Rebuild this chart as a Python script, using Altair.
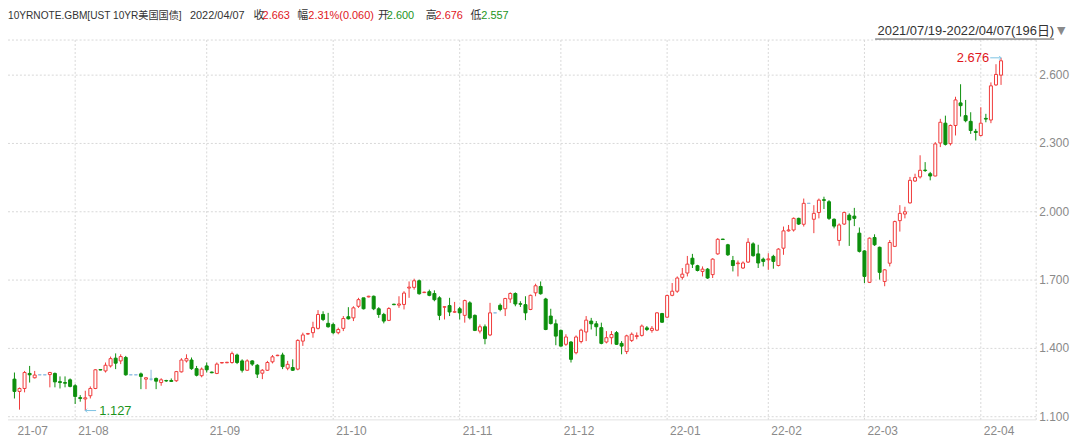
import altair as alt
import pandas as pd

# ---------------- data ----------------
symbol_name = "10YRNOTE.GBM[UST 10YR美国国债]"
first_date = "2021/07/19"
last_date = "2022/04/07"

opens = [
    1.265, 1.211, 1.224, 1.290, 1.271, 1.284, 1.284, 1.285, 1.290, 1.254,
    1.250, 1.262, 1.236, 1.184, 1.178, 1.192, 1.224, 1.307, 1.301, 1.323,
    1.357, 1.345, 1.360, 1.284, 1.284, 1.288, 1.265, 1.265, 1.268, 1.250,
    1.259, 1.259, 1.258, 1.297, 1.345, 1.349, 1.311, 1.280, 1.323, 1.296,
    1.290, 1.336, 1.337, 1.338, 1.371, 1.345, 1.304, 1.345, 1.326, 1.291,
    1.304, 1.341, 1.368, 1.371, 1.313, 1.316, 1.309, 1.432, 1.463, 1.469,
    1.488, 1.549, 1.510, 1.505, 1.469, 1.488, 1.539, 1.534, 1.585, 1.622,
    1.626, 1.629, 1.574, 1.549, 1.523, 1.594, 1.590, 1.593, 1.665, 1.668,
    1.697, 1.645, 1.649, 1.641, 1.622, 1.581, 1.588, 1.559, 1.574, 1.545,
    1.600, 1.545, 1.476, 1.495, 1.459, 1.556, 1.589, 1.574, 1.617, 1.641,
    1.596, 1.592, 1.571, 1.644, 1.672, 1.617, 1.542, 1.508, 1.479, 1.418,
    1.428, 1.381, 1.430, 1.472, 1.520, 1.508, 1.491, 1.428, 1.447, 1.469,
    1.422, 1.386, 1.435, 1.452, 1.457, 1.490, 1.479, 1.480, 1.553, 1.537,
    1.633, 1.651, 1.712, 1.731, 1.796, 1.763, 1.738, 1.748, 1.724, 1.815,
    1.880, 1.855, 1.786, 1.772, 1.753, 1.779, 1.859, 1.815, 1.792, 1.789,
    1.804, 1.764, 1.840, 1.916, 1.920, 1.971, 1.945, 2.037, 1.967, 1.997,
    2.053, 2.044, 1.967, 1.874, 1.946, 1.985, 1.981, 1.906, 1.828, 1.690,
    1.887, 1.844, 1.694, 1.774, 1.848, 1.961, 1.990, 2.039, 2.135, 2.153,
    2.183, 2.167, 2.157, 2.302, 2.389, 2.299, 2.379, 2.478, 2.422, 2.397,
    2.353, 2.335, 2.410, 2.403, 2.557, 2.600,
]
highs = [
    1.294, 1.228, 1.301, 1.323, 1.301, 1.284, 1.284, 1.297, 1.294, 1.277,
    1.277, 1.268, 1.243, 1.195, 1.214, 1.233, 1.309, 1.308, 1.338, 1.364,
    1.378, 1.374, 1.367, 1.284, 1.284, 1.294, 1.274, 1.306, 1.272, 1.269,
    1.262, 1.268, 1.301, 1.357, 1.374, 1.360, 1.323, 1.316, 1.338, 1.298,
    1.338, 1.340, 1.341, 1.386, 1.377, 1.352, 1.352, 1.348, 1.331, 1.309,
    1.345, 1.371, 1.372, 1.381, 1.345, 1.352, 1.440, 1.469, 1.468, 1.517,
    1.568, 1.563, 1.556, 1.513, 1.491, 1.542, 1.581, 1.585, 1.622, 1.622,
    1.631, 1.632, 1.581, 1.556, 1.581, 1.596, 1.629, 1.651, 1.694, 1.706,
    1.702, 1.649, 1.658, 1.655, 1.629, 1.585, 1.622, 1.604, 1.582, 1.614,
    1.607, 1.549, 1.505, 1.505, 1.600, 1.556, 1.597, 1.622, 1.646, 1.646,
    1.607, 1.629, 1.636, 1.684, 1.694, 1.622, 1.574, 1.527, 1.483, 1.462,
    1.432, 1.457, 1.486, 1.542, 1.534, 1.520, 1.513, 1.476, 1.476, 1.476,
    1.432, 1.460, 1.470, 1.470, 1.505, 1.498, 1.498, 1.559, 1.556, 1.636,
    1.687, 1.716, 1.753, 1.806, 1.815, 1.767, 1.760, 1.753, 1.796, 1.884,
    1.881, 1.859, 1.806, 1.786, 1.782, 1.884, 1.866, 1.855, 1.799, 1.818,
    1.811, 1.840, 1.935, 1.942, 1.975, 1.974, 2.058, 2.037, 2.029, 2.058,
    2.066, 2.051, 1.971, 1.949, 2.000, 1.993, 2.017, 1.931, 1.831, 1.887,
    1.901, 1.847, 1.748, 1.876, 1.961, 2.029, 2.022, 2.153, 2.167, 2.248,
    2.218, 2.175, 2.306, 2.408, 2.422, 2.383, 2.505, 2.560, 2.491, 2.437,
    2.364, 2.459, 2.430, 2.568, 2.648, 2.676,
]
lows = [
    1.180, 1.131, 1.207, 1.250, 1.268, 1.284, 1.284, 1.229, 1.229, 1.224,
    1.229, 1.229, 1.156, 1.166, 1.127, 1.180, 1.221, 1.304, 1.294, 1.316,
    1.309, 1.331, 1.280, 1.284, 1.284, 1.221, 1.221, 1.258, 1.221, 1.236,
    1.253, 1.253, 1.253, 1.294, 1.338, 1.306, 1.277, 1.273, 1.294, 1.291,
    1.287, 1.334, 1.335, 1.333, 1.331, 1.294, 1.301, 1.323, 1.270, 1.265,
    1.301, 1.334, 1.366, 1.309, 1.304, 1.301, 1.304, 1.411, 1.460, 1.447,
    1.483, 1.520, 1.491, 1.462, 1.462, 1.476, 1.527, 1.520, 1.578, 1.571,
    1.624, 1.568, 1.534, 1.510, 1.520, 1.590, 1.578, 1.571, 1.622, 1.658,
    1.636, 1.643, 1.629, 1.607, 1.524, 1.527, 1.542, 1.556, 1.527, 1.513,
    1.527, 1.476, 1.466, 1.418, 1.454, 1.556, 1.563, 1.542, 1.600, 1.585,
    1.582, 1.524, 1.568, 1.629, 1.636, 1.480, 1.505, 1.414, 1.408, 1.411,
    1.338, 1.374, 1.422, 1.432, 1.483, 1.454, 1.418, 1.422, 1.418, 1.415,
    1.374, 1.375, 1.428, 1.440, 1.452, 1.476, 1.469, 1.476, 1.512, 1.534,
    1.629, 1.644, 1.702, 1.716, 1.753, 1.738, 1.716, 1.705, 1.709, 1.811,
    1.877, 1.806, 1.738, 1.716, 1.749, 1.775, 1.803, 1.753, 1.760, 1.745,
    1.750, 1.760, 1.811, 1.913, 1.913, 1.942, 1.935, 2.037, 1.906, 1.971,
    2.012, 1.964, 1.927, 1.851, 1.942, 1.850, 1.937, 1.821, 1.687, 1.687,
    1.850, 1.702, 1.673, 1.760, 1.845, 1.913, 1.971, 2.036, 2.131, 2.146,
    2.175, 2.138, 2.156, 2.284, 2.291, 2.291, 2.335, 2.418, 2.393, 2.342,
    2.313, 2.331, 2.393, 2.389, 2.553, 2.557,
]
closes = [
    1.211, 1.224, 1.294, 1.284, 1.283, 1.284, 1.284, 1.294, 1.253, 1.250,
    1.247, 1.233, 1.189, 1.180, 1.183, 1.224, 1.306, 1.305, 1.326, 1.355,
    1.335, 1.364, 1.284, 1.284, 1.284, 1.277, 1.271, 1.265, 1.256, 1.262,
    1.257, 1.255, 1.298, 1.349, 1.355, 1.311, 1.282, 1.309, 1.306, 1.293,
    1.331, 1.338, 1.339, 1.377, 1.338, 1.304, 1.345, 1.331, 1.287, 1.304,
    1.338, 1.363, 1.370, 1.320, 1.330, 1.304, 1.435, 1.459, 1.465, 1.491,
    1.549, 1.527, 1.495, 1.469, 1.483, 1.531, 1.530, 1.578, 1.614, 1.574,
    1.629, 1.574, 1.549, 1.520, 1.575, 1.592, 1.595, 1.643, 1.669, 1.697,
    1.640, 1.647, 1.633, 1.614, 1.545, 1.583, 1.560, 1.561, 1.556, 1.610,
    1.534, 1.479, 1.495, 1.443, 1.556, 1.556, 1.571, 1.619, 1.641, 1.595,
    1.594, 1.556, 1.633, 1.675, 1.640, 1.483, 1.509, 1.454, 1.410, 1.450,
    1.352, 1.450, 1.480, 1.524, 1.508, 1.495, 1.422, 1.447, 1.461, 1.418,
    1.410, 1.455, 1.462, 1.456, 1.498, 1.483, 1.488, 1.556, 1.515, 1.632,
    1.651, 1.709, 1.726, 1.770, 1.770, 1.742, 1.748, 1.709, 1.792, 1.879,
    1.878, 1.811, 1.764, 1.775, 1.775, 1.866, 1.807, 1.775, 1.782, 1.793,
    1.782, 1.836, 1.916, 1.920, 1.971, 1.946, 2.037, 2.037, 1.993, 2.051,
    2.050, 1.971, 1.937, 1.942, 1.997, 1.964, 1.971, 1.826, 1.716, 1.884,
    1.855, 1.734, 1.745, 1.865, 1.957, 1.993, 2.000, 2.138, 2.150, 2.182,
    2.181, 2.157, 2.298, 2.393, 2.296, 2.379, 2.491, 2.466, 2.400, 2.357,
    2.348, 2.389, 2.407, 2.553, 2.603, 2.663,
]

month_labels = ["21-07", "21-08", "21-09", "21-10", "21-11", "21-12",
                "22-01", "22-02", "22-03", "22-04"]
month_index = [0, 12, 38, 63, 88, 108, 129, 149, 168, 191]
y_ticks = [2.6, 2.3, 2.0, 1.7, 1.4, 1.1]

# ---------------- style / layout ----------------
RED = "#f03a3a"
GREEN = "#0c8f0c"
FLAT = "#8bbbe0"
RED_T = "#e0161c"
GREEN_T = "#1c941c"
GRID = "#d8d8d8"
AXT = "#8a8a8a"
TXT = "#333333"
ARROW = "#7cc3e3"
FONT = "Liberation Sans, Noto Sans CJK SC"

W, H = 1034, 382
PT, PR, PB = 31, 36, 19
x0 = 1.5
step = (1003.35 - x0) / 195.0
xs = alt.Scale(domain=[-x0 / step, (W - x0) / step], nice=False, zero=False)
ys = alt.Scale(domain=[1.0860, 2.7541], nice=False, zero=False)

n = len(closes)


def direction(o, c):
    if c > o:
        return "up"
    if c < o:
        return "down"
    return "flat"


df = pd.DataFrame({"i": list(range(n)), "o": opens, "h": highs,
                   "l": lows, "c": closes})
df["d"] = [direction(o, c) for o, c in zip(opens, closes)]
dom = ["up", "down", "flat"]

X = alt.X("i:Q", scale=xs, axis=None)

wick = alt.Chart(df).mark_rule(strokeWidth=1).encode(
    x=X,
    y=alt.Y("l:Q", scale=ys, axis=None),
    y2="h:Q",
    color=alt.Color("d:N", scale=alt.Scale(domain=dom, range=[RED, GREEN, FLAT]), legend=None),
)
body = alt.Chart(df).mark_bar(size=3, strokeWidth=1).encode(
    x=X,
    y=alt.Y("o:Q", scale=ys, axis=None),
    y2="c:Q",
    fill=alt.Fill("d:N", scale=alt.Scale(domain=dom, range=["#ffffff", GREEN, FLAT]), legend=None),
    stroke=alt.Stroke("d:N", scale=alt.Scale(domain=dom, range=[RED, GREEN, FLAT]), legend=None),
)

# grid / axes
ydf = pd.DataFrame({"v": y_ticks, "lab": [f"{v:.3f}" for v in y_ticks]})
hgrid = alt.Chart(ydf).mark_rule(color=GRID, strokeDash=[2, 2], strokeWidth=1).encode(
    y=alt.Y("v:Q", scale=ys, axis=None), x=alt.value(0), x2=alt.value(W))
ylab = alt.Chart(ydf).mark_text(align="left", baseline="middle", fontSize=12,
                                color=AXT, font=FONT).encode(
    y=alt.Y("v:Q", scale=ys, axis=None), x=alt.value(W + 3), text="lab:N")

mdf = pd.DataFrame({"i": month_index, "lab": month_labels})
vgrid = alt.Chart(mdf[mdf["i"] > 0]).mark_rule(color=GRID, strokeDash=[2, 2]).encode(
    x=alt.X("i:Q", scale=xs, axis=None), y=alt.value(0), y2=alt.value(H))
mlab = alt.Chart(mdf).mark_text(align="left", baseline="middle", dx=3, fontSize=12,
                                color=AXT, font=FONT).encode(
    x=alt.X("i:Q", scale=xs, axis=None), y=alt.value(H + 11), text="lab:N")

one = pd.DataFrame({"k": [0]})
top_line = alt.Chart(one).mark_rule(color=GRID, strokeDash=[2, 2]).encode(
    x=alt.value(0), x2=alt.value(W), y=alt.value(0))
bottom_line = alt.Chart(one).mark_rule(color="#e2e2e2").encode(
    x=alt.value(0), x2=alt.value(W), y=alt.value(H))
right_line = alt.Chart(one).mark_rule(color=GRID, strokeDash=[2, 2]).encode(
    x=alt.value(W), y=alt.value(0), y2=alt.value(H))

# header
last_c = closes[-1]
prev_c = closes[-2]
chg = last_c - prev_c
pct = chg / prev_c * 100
header_items = [
    (last_date, 183, TXT),
    ("收", 247, TXT), (f"{last_c:.3f}", 256, RED_T),
    ("幅", 291, TXT), (f"{pct:.2f}%({chg:.3f})", 302, RED_T),
    ("开", 372, TXT), (f"{opens[-1]:.3f}", 381, GREEN_T),
    ("高", 420, TXT), (f"{highs[-1]:.3f}", 430, RED_T),
    ("低", 465, TXT), (f"{lows[-1]:.3f}", 476, GREEN_T),
]
header_layers = [
    alt.Chart(one).mark_text(text=symbol_name, align="left", baseline="middle",
                             fontSize=10.2, color=TXT, font=FONT).encode(
        x=alt.value(0), y=alt.value(-24))
] + [
    alt.Chart(one).mark_text(text=t, align="left", baseline="middle", fontSize=11,
                             color=col, font=FONT).encode(
        x=alt.value(xp), y=alt.value(-24))
    for t, xp, col in header_items
]

range_text = f"{first_date}-{last_date}({n}日)"
range_lab = alt.Chart(one).mark_text(text=range_text, align="right", baseline="middle",
                                     fontSize=13, color=TXT, font=FONT).encode(
    x=alt.value(1052), y=alt.value(-9))
range_line = alt.Chart(one).mark_rule(color="#555555").encode(
    x=alt.value(872), x2=alt.value(1052), y=alt.value(-1))
tri = alt.Chart(one).mark_text(text="▼", align="left", baseline="middle", fontSize=11,
                               color="#8a8a8a", font="DejaVu Sans").encode(
    x=alt.value(1055), y=alt.value(-9))

# high / low annotations
imax = highs.index(max(highs))
imin = lows.index(min(lows))
arrow_len = 11 / step
amax = pd.DataFrame({"i": [imax], "i2": [imax - arrow_len], "v": [highs[imax]],
                     "lab": [f"{highs[imax]:.3f}"]})
amin = pd.DataFrame({"i": [imin], "i2": [imin + arrow_len], "v": [lows[imin]],
                     "lab": [f"{lows[imin]:.3f}"]})

max_line = alt.Chart(amax).mark_rule(color=ARROW).encode(
    x=alt.X("i:Q", scale=xs, axis=None), x2="i2:Q", y=alt.Y("v:Q", scale=ys, axis=None))
max_head = alt.Chart(amax).mark_point(shape="M-1,-1L0,0L-1,1", size=14, filled=False,
                                      color=ARROW, opacity=1, strokeWidth=1).encode(
    x=alt.X("i:Q", scale=xs, axis=None), y=alt.Y("v:Q", scale=ys, axis=None))
max_text = alt.Chart(amax).mark_text(align="right", baseline="middle", dx=-12, fontSize=13,
                                     color=RED_T, font=FONT).encode(
    x=alt.X("i:Q", scale=xs, axis=None), y=alt.Y("v:Q", scale=ys, axis=None), text="lab:N")

min_line = alt.Chart(amin).mark_rule(color=ARROW).encode(
    x=alt.X("i:Q", scale=xs, axis=None), x2="i2:Q", y=alt.Y("v:Q", scale=ys, axis=None))
min_head = alt.Chart(amin).mark_point(shape="M1,-1L0,0L1,1", size=14, filled=False,
                                      color=ARROW, opacity=1, strokeWidth=1).encode(
    x=alt.X("i:Q", scale=xs, axis=None), y=alt.Y("v:Q", scale=ys, axis=None))
min_text = alt.Chart(amin).mark_text(align="left", baseline="middle", dx=14, fontSize=13,
                                     color=GREEN_T, font=FONT).encode(
    x=alt.X("i:Q", scale=xs, axis=None), y=alt.Y("v:Q", scale=ys, axis=None), text="lab:N")

chart = alt.layer(
    hgrid, vgrid, top_line, bottom_line, right_line,
    wick, body,
    ylab, mlab,
    max_line, max_head, max_text, min_line, min_head, min_text,
    range_lab, range_line, tri,
    *header_layers,
).resolve_scale(color="independent", fill="independent", stroke="independent").properties(
    width=W, height=H,
    padding={"left": 0, "top": PT, "right": PR, "bottom": PB},
    autosize=alt.AutoSizeParams(type="none"),
).configure_view(stroke=None)

chart.save("out.html", embed_options={"renderer": "svg", "actions": False})
